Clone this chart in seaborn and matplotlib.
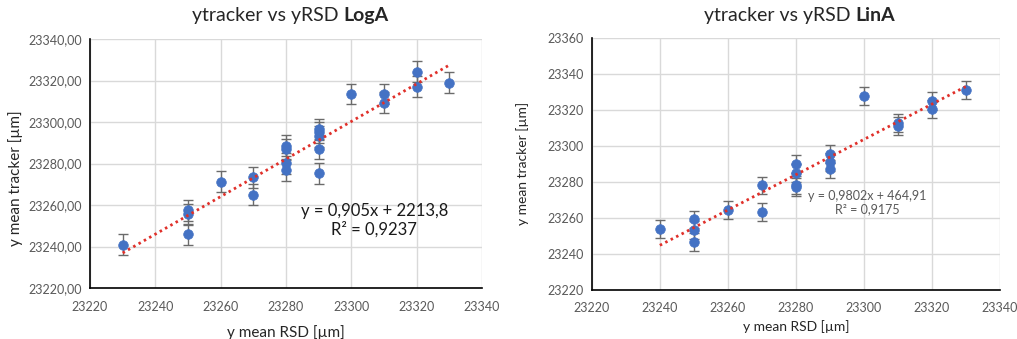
import numpy as np
import pandas as pd
import seaborn as sns
import matplotlib
matplotlib.use("Agg")
import matplotlib.pyplot as plt
from matplotlib.ticker import AutoMinorLocator, MultipleLocator, FuncFormatter

# --- LogA measurements ---
loga_rsd = [23230, 23250, 23250, 23250, 23260, 23270, 23270,
            23280, 23280, 23280, 23280,
            23290, 23290, 23290, 23290, 23290,
            23300, 23310, 23310, 23320, 23320, 23330]
loga_tracker = [23241.0, 23257.5, 23255.5, 23246.0, 23271.3, 23273.3, 23265.0,
                23288.6, 23287.0, 23280.2, 23276.7,
                23296.5, 23295.0, 23293.2, 23287.0, 23275.3,
                23313.5, 23313.5, 23309.4, 23324.3, 23317.0, 23319.0]
loga_err = 5.0
loga_slope, loga_icpt, loga_r2 = 0.905, 2213.8, 0.9237

# --- LinA measurements ---
lina_rsd = [23240, 23250, 23250, 23250, 23260, 23270, 23270,
            23280, 23280, 23280, 23280,
            23290, 23290, 23290,
            23300, 23310, 23310, 23320, 23320, 23330]
lina_tracker = [23253.9, 23259.1, 23253.0, 23246.5, 23264.6, 23278.0, 23263.5,
                23290.2, 23285.0, 23278.3, 23277.2,
                23295.7, 23291.1, 23287.4,
                23328.0, 23312.8, 23311.0, 23324.8, 23320.4, 23331.1]
lina_err = 5.0
lina_slope, lina_icpt, lina_r2 = 0.9802, 464.91, 0.9175

sns.set_theme(style="white")
plt.rcParams["font.family"] = ["Lato", "DejaVu Sans"]

BLUE = "#4472C4"
GRID = "#d9d9d9"
TICK_COL = "#595959"


def comma(v, decimals):
    return f"{v:.{decimals}f}".replace(".", ",")


def draw_panel(ax, rsd, tracker, err, slope, icpt, r2, name, ylim, ystep,
               ydec, eq_xy, eq_size, eq_color, lab_size, ylab_xy, xlabpad):
    df = pd.DataFrame({"rsd": rsd, "tracker": tracker})
    ax.errorbar(df["rsd"], df["tracker"], yerr=err, fmt="none",
                ecolor="#6b6b6b", elinewidth=1.0, capsize=3.5, capthick=1.0,
                zorder=2)
    sns.scatterplot(data=df, x="rsd", y="tracker", ax=ax, color=BLUE,
                    s=48, edgecolor=BLUE, linewidth=0.5, zorder=3, legend=False)
    xs = np.array([df["rsd"].min(), df["rsd"].max()], dtype=float)
    ax.plot(xs, slope * xs + icpt, color="#E0302A", lw=2.0,
            linestyle=(0, (0.9, 1.3)), zorder=4)

    ax.set_xlim(23220, 23340)
    ax.set_ylim(*ylim)
    ax.xaxis.set_major_locator(MultipleLocator(20))
    ax.yaxis.set_major_locator(MultipleLocator(ystep))
    ax.xaxis.set_minor_locator(AutoMinorLocator(5))
    ax.yaxis.set_minor_locator(AutoMinorLocator(5))
    ax.yaxis.set_major_formatter(FuncFormatter(lambda v, p: comma(v, ydec)))
    ax.xaxis.set_major_formatter(FuncFormatter(lambda v, p: f"{v:.0f}"))

    ax.grid(True, which="major", color=GRID, lw=1.0)
    ax.set_axisbelow(True)
    for side in ("top", "right"):
        ax.spines[side].set_visible(False)
    for side in ("left", "bottom"):
        ax.spines[side].set_color("black")
        ax.spines[side].set_linewidth(1.2)
    ax.tick_params(which="both", direction="in", color="black", width=1.0,
                   labelsize=9, labelcolor=TICK_COL)
    ax.tick_params(axis="y", pad=6)
    ax.tick_params(axis="x", pad=9)
    ax.tick_params(which="major", length=4)
    ax.tick_params(which="minor", length=4)

    ax.set_xlabel("y mean RSD [µm]", fontsize=lab_size, color="#262626",
                  labelpad=xlabpad)
    ax.set_ylabel("y mean tracker [µm]", fontsize=lab_size, color="#262626")
    ax.yaxis.set_label_coords(*ylab_xy)

    eq = f"y = {comma(slope, len(str(slope).split('.')[1]))}x + " \
         f"{comma(icpt, len(str(icpt).split('.')[1]))}\nR² = {comma(r2, 4)}"
    ax.text(*eq_xy, eq, ha="center", va="center", fontsize=eq_size,
            color=eq_color, linespacing=1.15)

    bbox = ax.get_position()
    fig = ax.figure
    cx = (bbox.x0 + bbox.x1) / 2
    t1 = fig.text(cx, 0.955, "ytracker vs yRSD ", ha="right", va="center",
                  fontsize=14, color="#262626")
    t2 = fig.text(cx, 0.955, name, ha="left", va="center", fontsize=14,
                  fontweight="bold", color="#262626")
    return t1, t2


fig = plt.figure(figsize=(10.17, 3.39), dpi=100)
ax1 = fig.add_axes([0.0885, 0.150, 0.3855, 0.735])
ax2 = fig.add_axes([0.582, 0.145, 0.401, 0.743])

draw_panel(ax1, loga_rsd, loga_tracker, loga_err, loga_slope, loga_icpt,
           loga_r2, "LogA", (23220, 23340), 20, 2, (23307, 23252.5), 12,
           "#1a1a1a", 11, (-0.17, 0.44), 9)
draw_panel(ax2, lina_rsd, lina_tracker, lina_err, lina_slope, lina_icpt,
           lina_r2, "LinA", (23220, 23360), 20, 0, (23301, 23268.5), 9,
           "#595959", 10, (-0.155, 0.5), 4)

# shift the split titles so each one is centred above its panel
fig.canvas.draw()
r = fig.canvas.get_renderer()
for t1, t2 in [(fig.texts[0], fig.texts[1]), (fig.texts[2], fig.texts[3])]:
    w1 = t1.get_window_extent(r).width
    w2 = t2.get_window_extent(r).width
    shift = (w1 - w2) / 2 / fig.bbox.width
    x = t1.get_position()[0] + shift + 4 / fig.bbox.width
    t1.set_x(x)
    t2.set_x(x)

fig.savefig("out.png", dpi=100)
